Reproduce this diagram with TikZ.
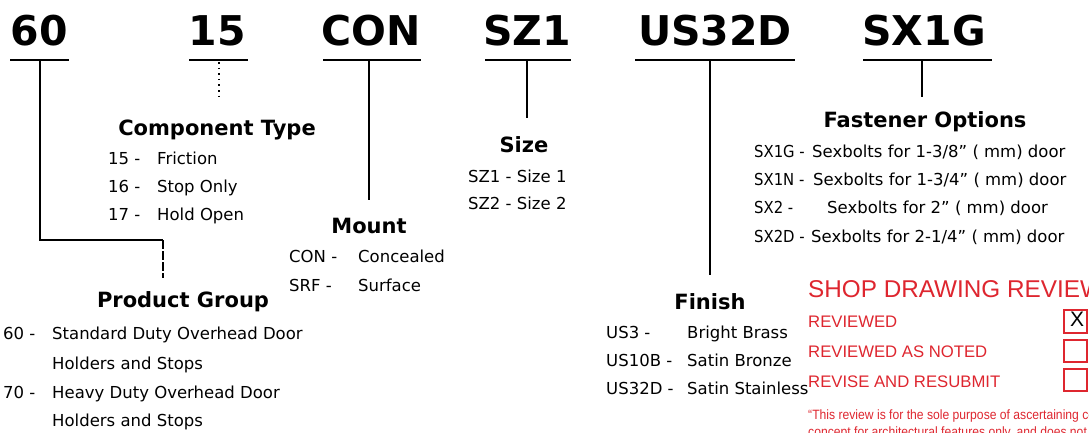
\documentclass[tikz,border=0pt]{standalone}
\usepackage{fontspec}
\setmainfont{DejaVu Sans}
\newfontfamily\condfont{DejaVu Sans Condensed}
\newfontfamily\redfont{Liberation Sans}
\newfontfamily\quotefont[FakeStretch=0.9]{Liberation Sans}
\definecolor{stampred}{RGB}{222,38,47}
\tikzset{
  code/.style={font=\fontsize{41}{41}\selectfont\bfseries, anchor=base, inner sep=0pt},
  head/.style={font=\fontsize{21}{21}\selectfont\bfseries, anchor=base, inner sep=0pt},
  item/.style={font=\fontsize{16.5}{16.5}\selectfont, anchor=base west, inner sep=0pt},
  conditem/.style={font=\condfont\fontsize{16.5}{16.5}\selectfont, anchor=base west, inner sep=0pt},
  stamp/.style={font=\redfont\fontsize{16.7}{16.7}\selectfont, text=stampred, anchor=base west, inner sep=0pt},
  stamptitle/.style={font=\redfont\fontsize{24.3}{24.3}\selectfont, text=stampred, anchor=base west, inner sep=0pt},
  quote/.style={font=\quotefont\fontsize{13.5}{13.5}\selectfont, text=stampred, anchor=base west, inner sep=0pt},
  rule/.style={line width=1.4pt, line cap=butt},
  checkbox/.style={draw=stampred, line width=1.2pt},
}
\begin{document}
\begin{tikzpicture}[x=1pt,y=-1pt]
\useasboundingbox (0,0) rectangle (1089,432);
\clip (0,0) rectangle (1089,432);

% big codes
\node[code] (c60) at (39,45) {60};
\node[code] (c15) at (217,45) {15};
\node[code] (ccon) at (371,45) {CON};
\node[code] (csz) at (527,45) {SZ1};
\node[code] (cus) at (715,45) {US32D};
\node[code] (csx) at (924,45) {SX1G};

% underlines
\coordinate (u60a) at (10,60);  \coordinate (u60b) at (69,60);
\coordinate (u15a) at (189,60); \coordinate (u15b) at (248,60);
\coordinate (uCa) at (323,60);  \coordinate (uCb) at (421,60);
\coordinate (uSa) at (485,60);  \coordinate (uSb) at (571,60);
\coordinate (uUa) at (635,60);  \coordinate (uUb) at (795,60);
\coordinate (uXa) at (863,60);  \coordinate (uXb) at (992,60);
\foreach \a/\b in {u60a/u60b,u15a/u15b,uCa/uCb,uSa/uSb,uUa/uUb,uXa/uXb}
  \draw[rule] (\a) -- (\b);

% connector joints and ends
\coordinate (j60) at (40,60);   \coordinate (k60) at (163,240); \coordinate (e60) at (163,278);
\coordinate (j15) at (219,62);  \coordinate (e15) at (219,100);
\coordinate (jC) at (369,60);   \coordinate (eC) at (369,200);
\coordinate (jS) at (527,60);   \coordinate (eS) at (527,118);
\coordinate (jU) at (710,60);   \coordinate (eU) at (710,275);
\coordinate (jX) at (922,60);   \coordinate (eX) at (922,97);

\draw[rule] (j60) |- (k60);
\draw[rule, dash pattern=on 9pt off 2pt] (k60) -- (e60);
\draw[line width=1.6pt, dash pattern=on 1.6pt off 4pt] (j15) -- (e15);
\draw[rule] (jC) -- (eC);
\draw[rule] (jS) -- (eS);
\draw[rule] (jU) -- (eU);
\draw[rule] (jX) -- (eX);

% Component Type
\node[head] (ct) at (217,135) {Component Type};
\node[item] (ct1a) at (108,164) {15 -};  \node[item] (ct1b) at (157,164) {Friction};
\node[item] (ct2a) at (108,192) {16 -};  \node[item] (ct2b) at (157,192) {Stop Only};
\node[item] (ct3a) at (108,220) {17 -};  \node[item] (ct3b) at (157,220) {Hold Open};

% Mount
\node[head] (mt) at (369,233) {Mount};
\node[item] (mt1a) at (289,262) {CON -}; \node[item] (mt1b) at (358,262) {Concealed};
\node[item] (mt2a) at (289,291) {SRF -}; \node[item] (mt2b) at (358,291) {Surface};

% Size
\node[head] (sz) at (524,152) {Size};
\node[item] (sz1) at (468,182) {SZ1 - Size 1};
\node[item] (sz2) at (468,209) {SZ2 - Size 2};

% Fastener Options
\node[head] (fo) at (925,127) {Fastener Options};
\node[conditem] (fo1a) at (754,157) {SX1G -}; \node[item] (fo1b) at (812,157) {Sexbolts for 1-3/8" ( mm) door};
\node[conditem] (fo2a) at (754,185) {SX1N -}; \node[item] (fo2b) at (813,185) {Sexbolts for 1-3/4" ( mm) door};
\node[conditem] (fo3a) at (754,213) {SX2 -};  \node[item] (fo3b) at (827,213) {Sexbolts for 2" ( mm) door};
\node[conditem] (fo4a) at (754,242) {SX2D -}; \node[item] (fo4b) at (811,242) {Sexbolts for 2-1/4" ( mm) door};

% Product Group
\node[head] (pg) at (183,307) {Product Group};
\node[item] (pg1a) at (3,339) {60 -};  \node[item] (pg1b) at (52,339) {Standard Duty Overhead Door};
\node[item] (pg1c) at (52,369) {Holders and Stops};
\node[item] (pg2a) at (3,398) {70 -};  \node[item] (pg2b) at (52,398) {Heavy Duty Overhead Door};
\node[item] (pg2c) at (52,426) {Holders and Stops};

% Finish
\node[head] (fn) at (710,309) {Finish};
\node[item] (fn1a) at (606,338) {US3 -};   \node[item] (fn1b) at (687,338) {Bright Brass};
\node[item] (fn2a) at (606,366) {US10B -}; \node[item] (fn2b) at (687,366) {Satin Bronze};
\node[item] (fn3a) at (606,394) {US32D -}; \node[item] (fn3b) at (687,394) {Satin Stainless};

% Shop drawing review stamp
\node[stamptitle] (st) at (808,297) {SHOP DRAWING REVIEW};
\node[stamp] (s1) at (808,327) {REVIEWED};
\node[stamp] (s2) at (808,357) {REVIEWED AS NOTED};
\node[stamp] (s3) at (808,387) {REVISE AND RESUBMIT};
\draw[checkbox] (1064,310) rectangle (1087,333);
\draw[checkbox] (1064,340) rectangle (1087,362);
\draw[checkbox] (1064,369) rectangle (1087,391);
\node[font=\redfont\fontsize{21}{21}\selectfont, inner sep=0pt] (bx) at (1077,319) {X};
\node[quote] (q1) at (808,419) {“This review is for the sole purpose of ascertaining conformance with the general design};
\node[quote] (q2) at (808,436) {concept for architectural features only, and does not relieve the contractor};
\end{tikzpicture}
\end{document}
